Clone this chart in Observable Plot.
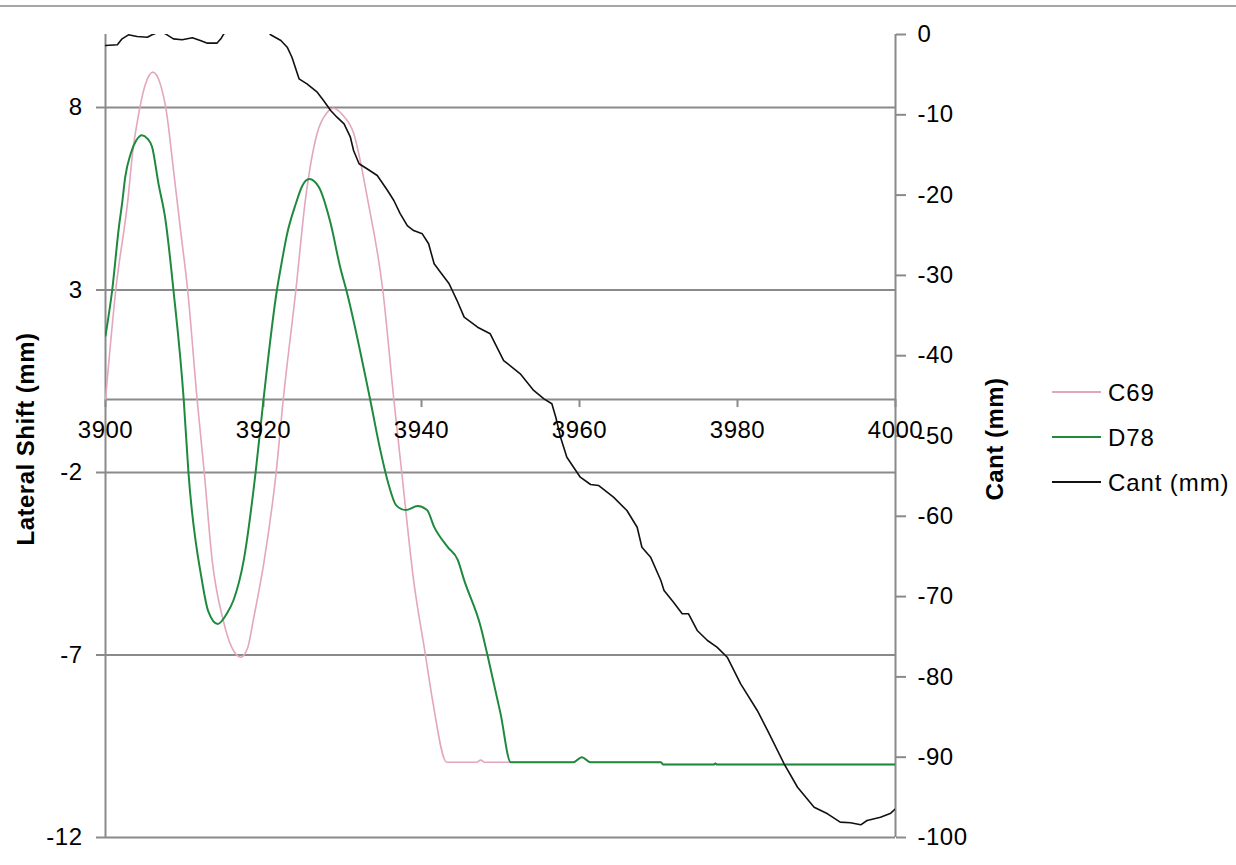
<!DOCTYPE html>
<html>
<head>
<meta charset="utf-8">
<script src="https://cdn.jsdelivr.net/npm/d3@7"></script>
<script src="https://cdn.jsdelivr.net/npm/@observablehq/plot@0.6"></script>
<style>
  html, body { margin: 0; padding: 0; background: #fff; }
  #wrap { position: relative; width: 1236px; height: 865px; font-family: "Liberation Sans", Arial, sans-serif; }
  #topline { position: absolute; left: 0; top: 5px; width: 1236px; height: 2px; background: #a6a6a6; }
  #chart { position: absolute; left: 0; top: 0; }
  .leg { position: absolute; left: 1052px; width: 180px; height: 0; }
  .leg .sw { position: absolute; left: 0; width: 49px; height: 2px; }
  .leg .lb { position: absolute; left: 56px; top: -13px; font-size: 24px; color: #000; white-space: nowrap; line-height: 28px; letter-spacing: 0.9px; }
</style>
</head>
<body>
<div id="wrap">
  <div id="chart"></div>
  <div id="topline"></div>
  <div id="legend"></div>
</div>
<script>
// ---- data ----
const xTicks = [3900, 3920, 3940, 3960, 3980, 4000];
const shiftTicks = [-12, -7, -2, 3, 8];
const cantTicks = [0, -10, -20, -30, -40, -50, -60, -70, -80, -90, -100];

const seriesNames = ["C69", "D78", "Cant (mm)"];
const seriesColors = ["#e3a6bf", "#1f8a3e", "#111111"];

const c69Chainage = [3900.0, 3901.3, 3902.9, 3903.4, 3904.1, 3905.0, 3906.0, 3907.0, 3907.7, 3908.6, 3909.5, 3910.4, 3911.6, 3912.5, 3913.5, 3914.9, 3916.0, 3917.1, 3918.0, 3918.7, 3920.1, 3921.6, 3922.5, 3924.1, 3925.3, 3926.8, 3928.0, 3928.9, 3930.0, 3931.4, 3933.2, 3935.1, 3936.5, 3937.5, 3939.0, 3940.5, 3941.4, 3943.2, 3947.0, 3947.5, 3948.0, 3951.3, 3959.2, 3960.3, 3961.4, 3970.3, 3970.6, 3977.0, 3977.2, 3977.4, 4000.0];
const c69Shift    = [0.0, 3.0, 5.6, 6.7, 7.7, 8.6, 8.97, 8.6, 7.9, 6.3, 4.64, 3.0, 0.0, -2.0, -4.4, -6.05, -6.8, -7.06, -6.8, -6.05, -4.4, -2.0, 0.0, 3.0, 5.46, 7.3, 7.85, 7.98, 7.8, 7.3, 5.46, 3.0, 0.0, -2.0, -4.95, -7.0, -8.24, -9.94, -9.94, -9.88, -9.94, -9.94, -9.94, -9.8, -9.94, -9.94, -10.0, -10.0, -9.97, -10.0, -10.0];

const d78Chainage = [3900.0, 3900.85, 3901.7, 3902.1, 3902.5, 3903.2, 3903.9, 3904.6, 3905.3, 3905.9, 3906.7, 3907.6, 3908.6, 3909.9, 3910.5, 3912.2, 3913.0, 3914.2, 3915.4, 3916.2, 3917.5, 3919.0, 3920.0, 3921.7, 3922.2, 3923.0, 3924.1, 3924.9, 3925.8, 3927.0, 3928.5, 3929.7, 3930.6, 3933.5, 3934.8, 3935.8, 3936.8, 3938.0, 3939.5, 3940.7, 3941.6, 3943.3, 3944.6, 3945.4, 3947.5, 3948.4, 3950.0, 3951.3, 3959.2, 3960.3, 3961.4, 3970.3, 3970.6, 3977.0, 3977.2, 3977.4, 4000.0];
const d78Shift    = [1.75, 3.0, 4.73, 5.37, 6.1, 6.74, 7.1, 7.24, 7.15, 6.92, 5.92, 4.91, 3.0, 0.0, -2.0, -4.95, -5.8, -6.15, -5.85, -5.5, -4.4, -2.0, 0.0, 3.0, 3.63, 4.55, 5.37, 5.85, 6.04, 5.82, 4.82, 3.63, 2.9, 0.0, -1.4, -2.3, -2.9, -3.03, -2.92, -3.03, -3.49, -4.04, -4.4, -4.95, -6.23, -7.05, -8.6, -9.94, -9.94, -9.8, -9.94, -9.94, -10.0, -10.0, -9.97, -10.0, -10.0];

const cantChainage = [3900.0, 3901.5, 3902.1, 3902.9, 3904.0, 3905.3, 3905.9, 3907.0, 3907.8, 3908.6, 3909.7, 3911.0, 3912.0, 3912.9, 3914.1, 3914.6, 3914.9, 3916.5, 3918.5, 3920.0, 3920.9, 3922.2, 3923.0, 3923.6, 3924.5, 3925.5, 3926.8, 3927.6, 3928.5, 3929.3, 3930.2, 3931.0, 3931.4, 3932.1, 3933.1, 3934.4, 3935.7, 3936.5, 3937.3, 3938.2, 3939.0, 3940.1, 3940.9, 3941.6, 3942.4, 3943.5, 3943.9, 3944.5, 3945.4, 3947.1, 3948.7, 3950.4, 3952.5, 3954.2, 3955.5, 3956.5, 3957.0, 3957.6, 3958.4, 3960.1, 3961.4, 3962.4, 3964.3, 3966.0, 3967.3, 3967.9, 3969.0, 3970.3, 3970.7, 3971.9, 3973.0, 3973.8, 3974.9, 3976.2, 3977.4, 3978.7, 3980.4, 3982.5, 3983.8, 3985.9, 3987.6, 3989.7, 3991.4, 3993.0, 3994.3, 3995.6, 3996.4, 3998.1, 3999.4, 4000.0];
const cantValue    = [-1.37, -1.28, -0.54, -0.04, -0.25, -0.34, -0.04, 0.4, -0.04, -0.54, -0.66, -0.41, -0.75, -1.08, -1.08, -0.54, -0.04, 2.0, 2.5, 1.2, -0.04, -0.75, -1.58, -2.83, -5.52, -6.14, -7.19, -8.22, -9.46, -10.3, -11.12, -12.79, -14.45, -16.1, -16.72, -17.56, -19.43, -20.67, -22.3, -23.79, -24.41, -24.82, -26.06, -28.56, -29.6, -31.05, -31.88, -33.13, -35.2, -36.45, -37.27, -40.6, -42.25, -44.33, -45.37, -45.99, -47.66, -50.15, -52.64, -55.13, -56.04, -56.16, -57.62, -59.28, -61.36, -63.85, -65.09, -67.99, -69.24, -70.7, -72.14, -72.14, -74.22, -75.47, -76.3, -77.55, -80.86, -84.18, -86.67, -90.82, -93.74, -96.23, -97.05, -98.09, -98.17, -98.42, -97.88, -97.47, -96.97, -96.43];

// ---- build tables ----
const shiftDomain = [-12, 10];
const cantDomain = [-100, 0];
// map cant (right axis) onto the lateral-shift scale
const cantToShift = d3.scaleLinear().domain(cantDomain).range(shiftDomain);

const c69 = c69Chainage.map((x, i) => ({x, y: c69Shift[i]}));
const d78 = d78Chainage.map((x, i) => ({x, y: d78Shift[i]}));
const cant = cantChainage.map((x, i) => ({x, y: cantToShift(cantValue[i])}));

const grey = "#8a8a8a";
const font = "'Liberation Sans', Arial, sans-serif";

const chart = Plot.plot({
  width: 1236,
  height: 865,
  marginLeft: 105,
  marginRight: 341,
  marginTop: 34,
  marginBottom: 28,
  x: {domain: [3900, 4000], axis: null},
  y: {domain: shiftDomain},
  style: {fontFamily: font, fontSize: "24px", color: "#000", background: "transparent", overflow: "visible", letterSpacing: "0.5px"},
  marks: [
    Plot.gridY(shiftTicks, {stroke: grey, strokeOpacity: 1, strokeWidth: 2}),
    Plot.ruleX([3900], {stroke: grey, strokeWidth: 2}),
    Plot.ruleX([4000], {stroke: grey, strokeWidth: 2}),
    Plot.ruleY([0], {stroke: grey, strokeWidth: 2}),
    Plot.ruleX(xTicks, {x: d => d, y1: 0, y2: 0, insetBottom: -8, stroke: grey, strokeWidth: 2}),
    Plot.axisY(shiftTicks, {anchor: "left", tickSize: 9, tickPadding: 14, stroke: grey, strokeWidth: 2, fill: "#000", fontSize: 24, tickFormat: d => String(d), label: null}),
    Plot.axisY(cantTicks.map(c => cantToShift(c)), {anchor: "right", tickSize: 10, tickPadding: 12, stroke: grey, strokeWidth: 2, fill: "#000", fontSize: 24, tickFormat: (d, i) => String(cantTicks[i]), label: null}),
    Plot.line(c69, {x: "x", y: "y", stroke: seriesColors[0], strokeWidth: 1.6, curve: "monotone-x", clip: true}),
    Plot.line(d78, {x: "x", y: "y", stroke: seriesColors[1], strokeWidth: 2, curve: "monotone-x", clip: true}),
    Plot.line(cant, {x: "x", y: "y", stroke: seriesColors[2], strokeWidth: 1.6, clip: true}),
    Plot.text(xTicks, {x: d => d, y: 0, dy: 31, text: d => String(d), fontSize: 24, fill: "#000"}),
    Plot.text(["Lateral Shift (mm)"], {frameAnchor: "left", dx: -79, dy: 3, rotate: -90, textAnchor: "middle", lineAnchor: "middle", fontWeight: "bold", fontSize: 24, fill: "#000", style: "letter-spacing:0.8px"}),
    Plot.text(["Cant (mm)"], {frameAnchor: "right", dx: 100, dy: 3, rotate: -90, textAnchor: "middle", lineAnchor: "middle", fontWeight: "bold", fontSize: 24, fill: "#000"})
  ]
});
document.getElementById("chart").appendChild(chart);

// legend
const legend = document.getElementById("legend");
const legTops = [392, 437, 482];
seriesNames.forEach((name, i) => {
  const item = document.createElement("div");
  item.className = "leg";
  item.style.top = legTops[i] + "px";
  const sw = document.createElement("div");
  sw.className = "sw";
  sw.style.background = seriesColors[i];
  sw.style.top = "-1px";
  const lb = document.createElement("div");
  lb.className = "lb";
  lb.textContent = name;
  item.appendChild(sw);
  item.appendChild(lb);
  legend.appendChild(item);
});
</script>
</body>
</html>
